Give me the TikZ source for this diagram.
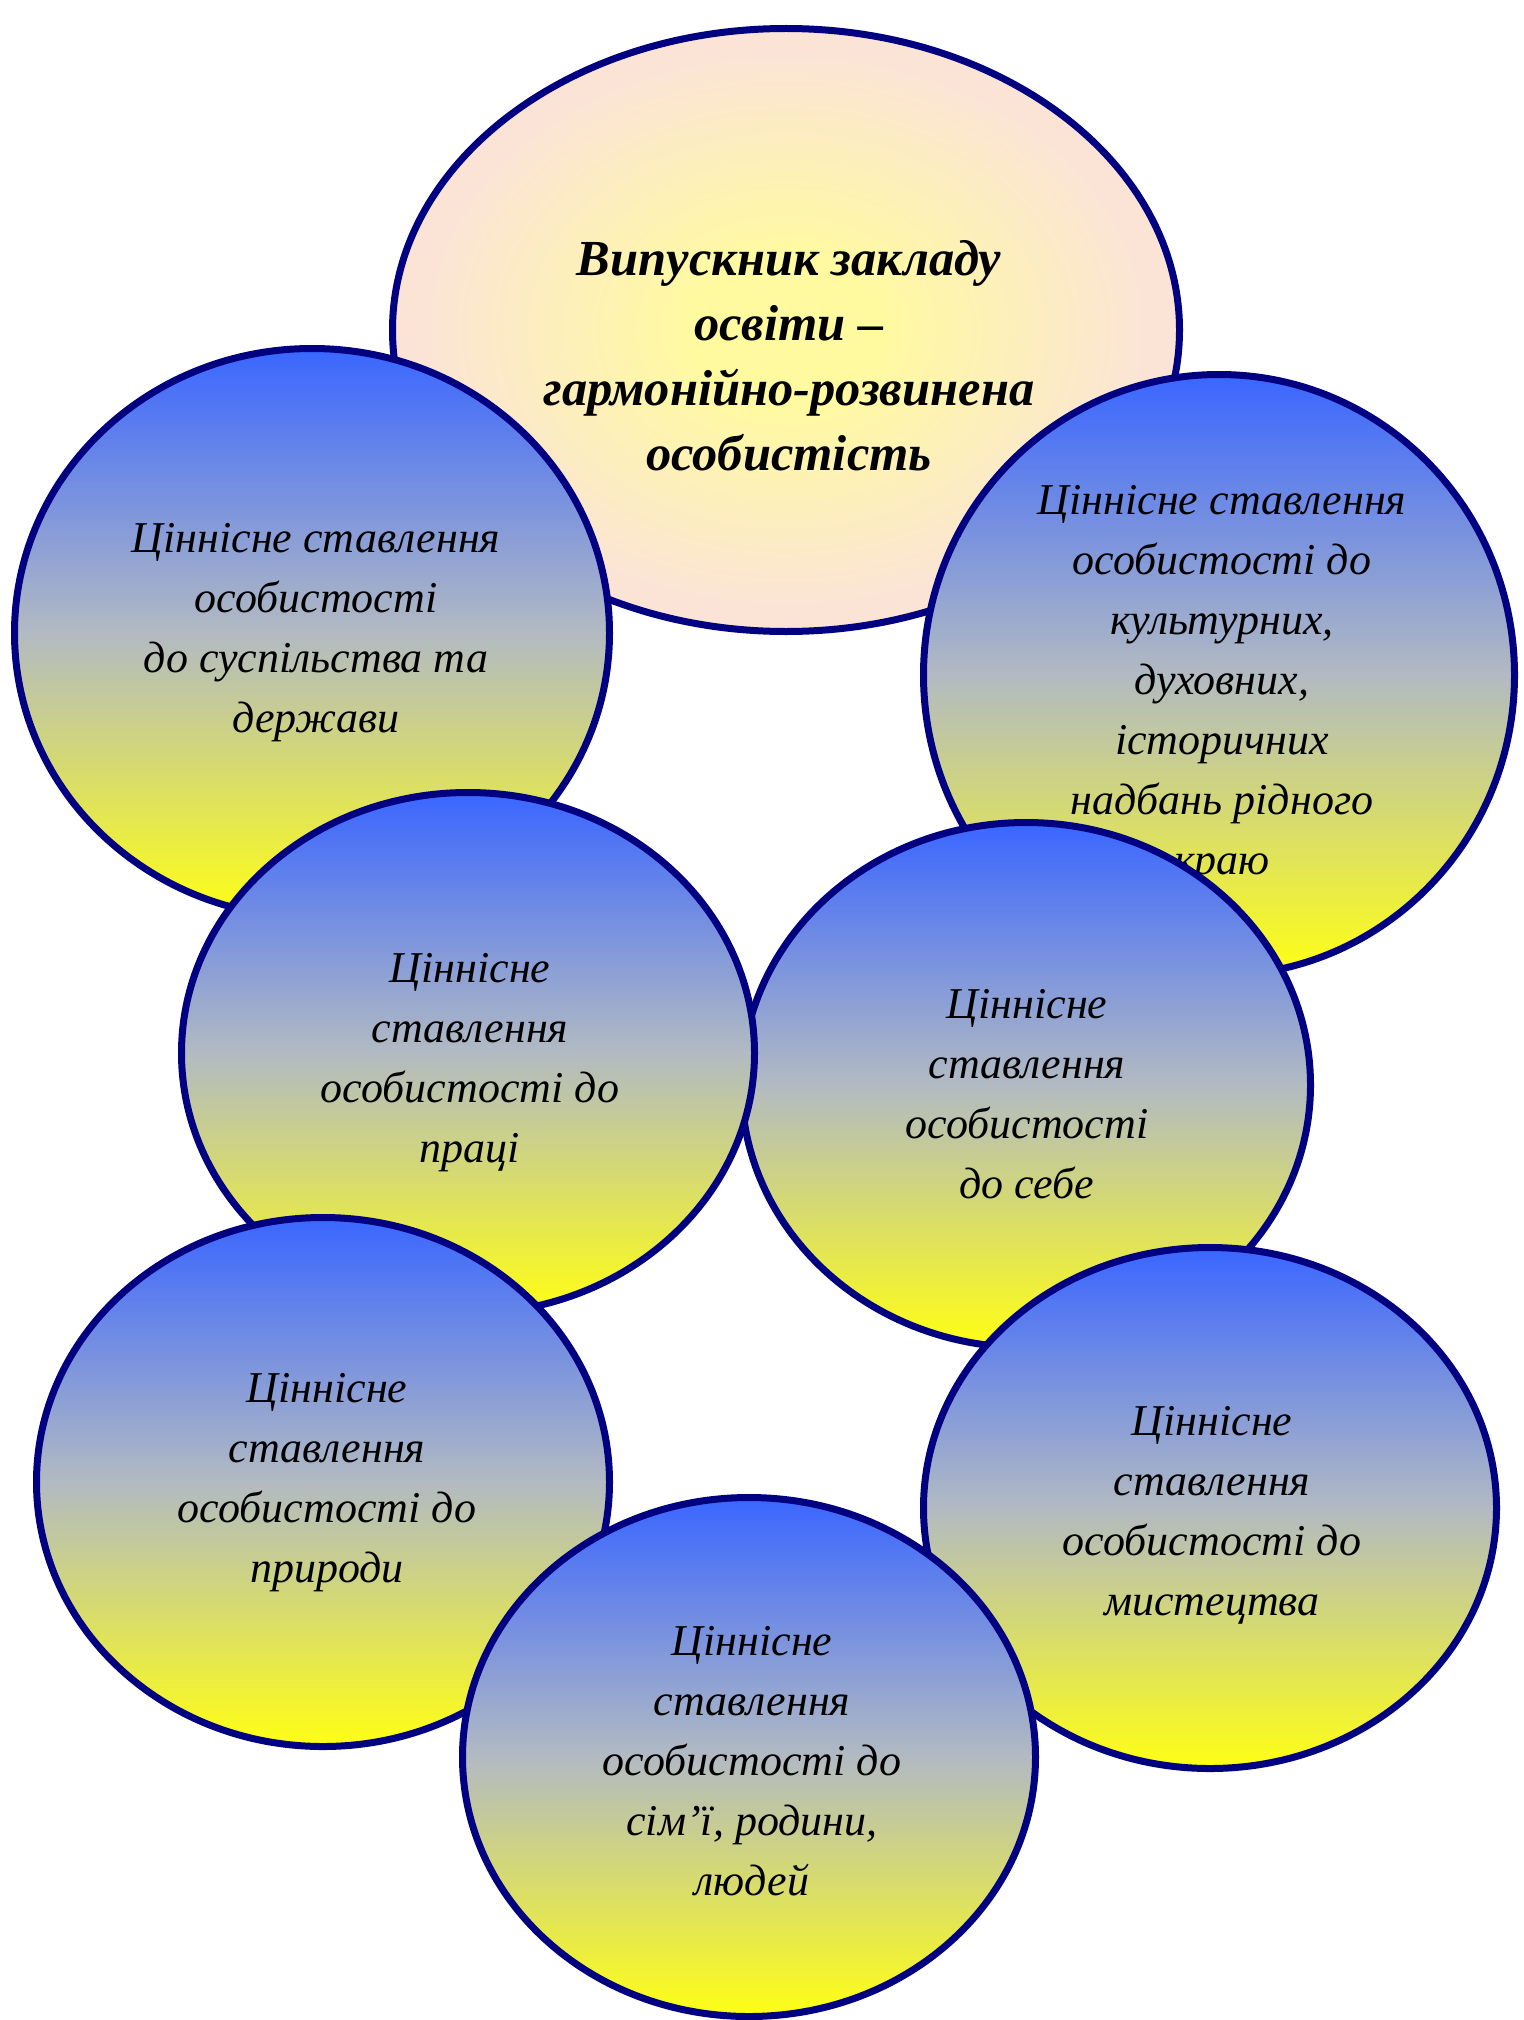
\documentclass[tikz,border=0pt]{standalone}
\usepackage{fontspec}
\setmainfont{Liberation Serif}
\usetikzlibrary{shapes.geometric}
\definecolor{bord}{RGB}{0,0,128}
\definecolor{cblue}{RGB}{58,102,255}
\definecolor{cgray}{RGB}{178,186,194}
\definecolor{cyel}{RGB}{255,255,20}
\definecolor{peach}{RGB}{251,228,214}
\definecolor{lyel}{RGB}{255,250,160}
\pgfdeclareradialshading{topglow}{\pgfpoint{0bp}{0bp}}{color(0bp)=(lyel); color(6bp)=(lyel); color(23bp)=(peach); color(50bp)=(peach)}
\tikzset{
  bubble/.style={ellipse, draw=bord, line width=7pt, top color=cblue, bottom color=cyel, middle color=cgray,
    inner sep=0pt},
  btext/.style={align=center, inner sep=0pt, font=\fontsize{44}{60}\selectfont\itshape},
  mainbubble/.style={ellipse, draw=bord, line width=7pt, shading=topglow, inner sep=0pt},
  maintext/.style={align=center, inner sep=0pt, font=\fontsize{50.5}{65}\selectfont\bfseries\itshape},
}
\begin{document}
\begin{tikzpicture}[x=1pt,y=-1pt]
\useasboundingbox (0,0) rectangle (1523,2020);
\node[mainbubble, minimum width=787pt, minimum height=603pt] (main) at (786,330) {};
\node[maintext] (maint) at (789,356) {Випускник закладу\\ освіти –\\ гармонійно-розвинена\\ особистість};
\node[bubble, minimum width=595pt, minimum height=569pt] (society) at (312,633) {};
\node[btext] (societyt) at (316,633) {Ціннісне ставлення\\ особистості\\ до суспільства та\\ держави};
\node[bubble, minimum width=591pt, minimum height=601pt] (culture) at (1219,675) {};
\node[btext] (culturet) at (1222,685) {Ціннісне ставлення\\ особистості до\\ культурних,\\ духовних,\\ історичних\\ надбань рідного\\ краю};
\node[bubble, minimum width=569pt, minimum height=525pt] (self) at (1026,1085) {};
\node[btext] (selft) at (1027,1094) {Ціннісне\\ ставлення\\ особистості\\ до себе};
\node[bubble, minimum width=573pt, minimum height=521pt] (work) at (468,1053) {};
\node[btext] (workt) at (470,1063) {Ціннісне\\ ставлення\\ особистості до\\ праці};
\node[bubble, minimum width=573pt, minimum height=529pt] (nature) at (323,1482) {};
\node[btext] (naturet) at (327,1483) {Ціннісне\\ ставлення\\ особистості до\\ природи};
\node[bubble, minimum width=573pt, minimum height=521pt] (art) at (1210,1508) {};
\node[btext] (artt) at (1212,1515) {Ціннісне\\ ставлення\\ особистості до\\ мистецтва};
\node[bubble, minimum width=573pt, minimum height=519pt] (family) at (749,1757) {};
\node[btext] (familyt) at (752,1761) {Ціннісне\\ ставлення\\ особистості до\\ сім’ї, родини,\\ людей};
\end{tikzpicture}
\end{document}
